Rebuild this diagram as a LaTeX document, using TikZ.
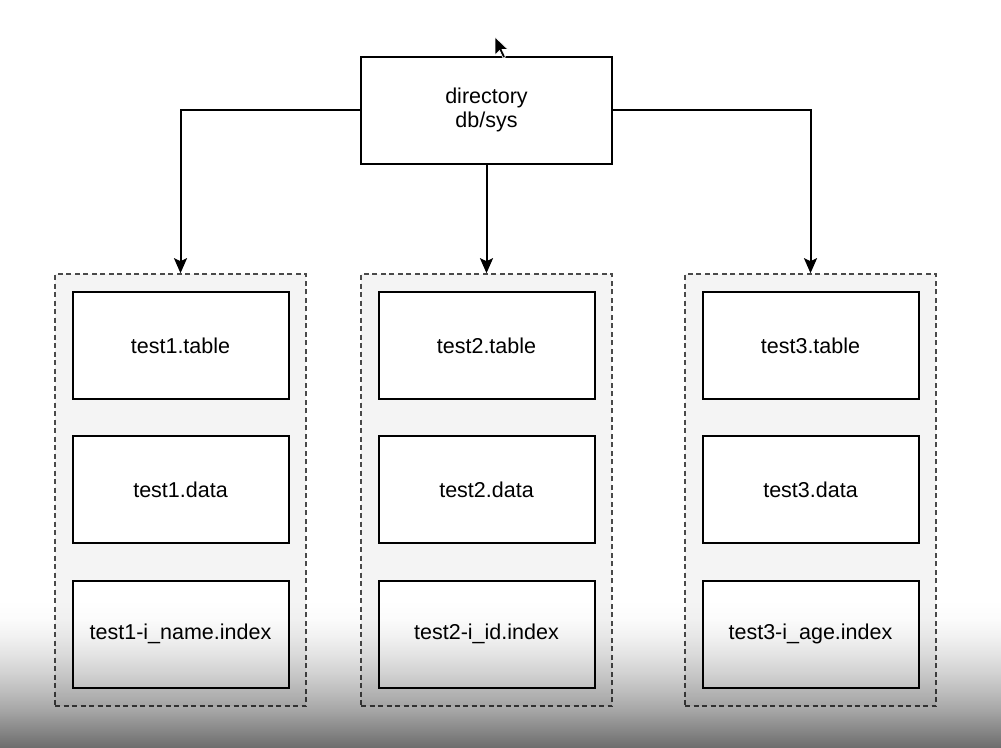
\documentclass[tikz,border=0pt]{standalone}
\usepackage{fontspec}
\setmainfont{Liberation Sans}
\usetikzlibrary{arrows.meta}
\definecolor{groupfill}{HTML}{F4F4F4}
\definecolor{groupline}{HTML}{4A4A4A}
\pgfdeclareverticalshading{shadowfade}{100bp}{%
  color(0bp)=(white!43!black);
  color(25bp)=(white!43!black);
  color(31.25bp)=(white!54!black);
  color(37.5bp)=(white!65!black);
  color(43.75bp)=(white!74!black);
  color(50bp)=(white!82!black);
  color(56.25bp)=(white!89!black);
  color(62.5bp)=(white!94.6!black);
  color(68.75bp)=(white!98.6!black);
  color(75bp)=(white);
  color(100bp)=(white)}
\begin{document}
\begin{tikzpicture}[x=1pt,y=-1pt,
  every node/.style={font=\fontsize{21.5}{25.5}\selectfont, text=black},
  group/.style={draw=groupline, fill=groupfill, line width=1.6pt, dash pattern=on 5pt off 3.5pt, minimum width=251pt, minimum height=432pt, inner sep=0pt},
  filebox/.style={draw=black, fill=white, line width=2pt, minimum width=216pt, minimum height=107pt, inner sep=0pt},
  dirbox/.style={draw=black, fill=white, line width=2pt, minimum width=251pt, minimum height=107pt, inner sep=0pt, align=center},
  conn/.style={draw=black, line width=2pt, -{Stealth[length=15pt,width=13pt,inset=3pt]}},
  shadow/.style={blend mode=multiply, draw=none}]
\useasboundingbox (0,0) rectangle (1001,747);
\fill[white] (0,0) rectangle (1001,747);
% groups
\node[group] (g1) at (180.5,490) {};
\node[group] (g2) at (486.5,490) {};
\node[group] (g3) at (810.5,490) {};
% files
\node[filebox] (t1) at (180.5,345.5) {test1.table};
\node[filebox] (d1) at (180.5,489.5) {test1.data};
\node[filebox] (i1) at (180.5,634) {test1-i\_name.index};
\node[filebox] (t2) at (486.5,345.5) {test2.table};
\node[filebox] (d2) at (486.5,489.5) {test2.data};
\node[filebox] (i2) at (486.5,634) {test2-i\_id.index};
\node[filebox] (t3) at (810.5,345.5) {test3.table};
\node[filebox] (d3) at (810.5,489.5) {test3.data};
\node[filebox] (i3) at (810.5,634) {test3-i\_age.index};
% directory
\node[dirbox] (dir) at (486.5,110) {\raisebox{-1.5pt}{directory}\\db/sys};
% connectors
\draw[conn] (dir.west) -| (g1.north);
\draw[conn] (dir.south) -- (g2.north);
\draw[conn] (dir.east) -| (g3.north);
% mouse cursor
\fill[black, draw=white, line width=0.6pt, line join=miter]
  (495,37) -- (495,55) -- (499.5,50.5) -- (503,58) -- (505.5,57) -- (502,49.5) -- (508,49.5) -- cycle;
% bottom shadow (multiply blend, one shading)
\begin{scope}[shadow]
\shade[shading=shadowfade] (0,600) rectangle (1001,747);
\end{scope}
\end{tikzpicture}
\end{document}
